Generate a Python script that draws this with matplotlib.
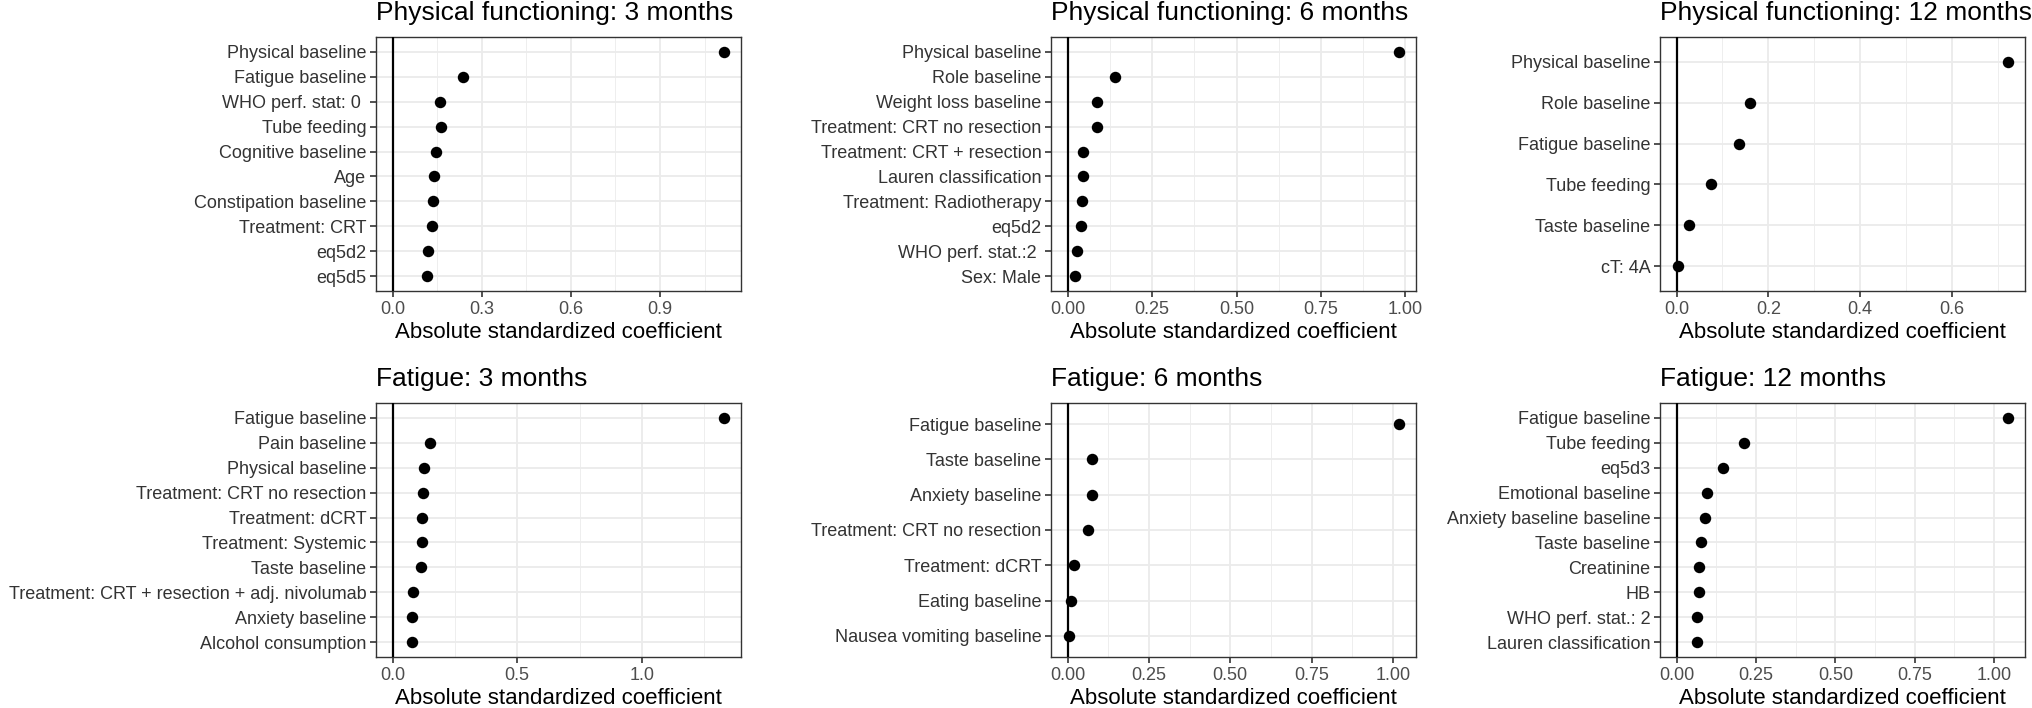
import matplotlib
matplotlib.use("Agg")
import matplotlib.pyplot as plt
from matplotlib.ticker import AutoMinorLocator

plt.rcParams["font.family"] = ["Liberation Sans", "DejaVu Sans"]

# =========================================
# Data
# =========================================

pf3_labels = ["Physical baseline", "Fatigue baseline", "WHO perf. stat: 0 ", "Tube feeding",
              "Cognitive baseline", "Age", "Constipation baseline", "Treatment: CRT",
              "eq5d2", "eq5d5"]
pf3_values = [1.117, 0.236, 0.161, 0.162, 0.146, 0.139, 0.137, 0.134, 0.119, 0.116]

pf6_labels = ["Physical baseline", "Role baseline", "Weight loss baseline",
              "Treatment: CRT no resection", "Treatment: CRT + resection",
              "Lauren classification", "Treatment: Radiotherapy", "eq5d2",
              "WHO perf. stat.:2 ", "Sex: Male"]
pf6_values = [0.982, 0.141, 0.088, 0.086, 0.046, 0.045, 0.043, 0.041, 0.029, 0.022]

pf12_labels = ["Physical baseline", "Role baseline", "Fatigue baseline", "Tube feeding",
               "Taste baseline", "cT: 4A"]
pf12_values = [0.723, 0.161, 0.135, 0.075, 0.028, 0.004]

fa3_labels = ["Fatigue baseline", "Pain baseline", "Physical baseline",
              "Treatment: CRT no resection", "Treatment: dCRT", "Treatment: Systemic",
              "Taste baseline", "Treatment: CRT + resection + adj. nivolumab",
              "Anxiety baseline", "Alcohol consumption"]
fa3_values = [1.331, 0.151, 0.127, 0.120, 0.119, 0.117, 0.112, 0.081, 0.077, 0.076]

fa6_labels = ["Fatigue baseline", "Taste baseline", "Anxiety baseline",
              "Treatment: CRT no resection", "Treatment: dCRT", "Eating baseline",
              "Nausea vomiting baseline"]
fa6_values = [1.020, 0.076, 0.074, 0.063, 0.021, 0.009, 0.005]

fa12_labels = ["Fatigue baseline", "Tube feeding", "eq5d3", "Emotional baseline",
               "Anxiety baseline baseline", "Taste baseline", "Creatinine", "HB",
               "WHO perf. stat.: 2", "Lauren classification"]
fa12_values = [1.045, 0.213, 0.145, 0.097, 0.090, 0.078, 0.071, 0.070, 0.065, 0.064]

titles = ["Physical functioning: 3 months", "Physical functioning: 6 months",
          "Physical functioning: 12 months", "Fatigue: 3 months", "Fatigue: 6 months",
          "Fatigue: 12 months"]

ticks_3dec = [0.0, 0.3, 0.6, 0.9]
ticks_4q = [0.0, 0.25, 0.5, 0.75, 1.0]
ticks_pf12 = [0.0, 0.2, 0.4, 0.6]
ticks_fa3 = [0.0, 0.5, 1.0]

ticklabels_3dec = ["0.0", "0.3", "0.6", "0.9"]
ticklabels_4q = ["0.00", "0.25", "0.50", "0.75", "1.00"]
ticklabels_pf12 = ["0.0", "0.2", "0.4", "0.6"]
ticklabels_fa3 = ["0.0", "0.5", "1.0"]

panels = [
    (pf3_labels, pf3_values, ticks_3dec, ticklabels_3dec),
    (pf6_labels, pf6_values, ticks_4q, ticklabels_4q),
    (pf12_labels, pf12_values, ticks_pf12, ticklabels_pf12),
    (fa3_labels, fa3_values, ticks_fa3, ticklabels_fa3),
    (fa6_labels, fa6_values, ticks_4q, ticklabels_4q),
    (fa12_labels, fa12_values, ticks_4q, ticklabels_4q),
]

# =========================================
# Layout (pixels)
# =========================================

W, H = 2032, 708
col_left = [376, 1051, 1660]
row_top = [37, 403]
box_w, box_h = 365, 254

fig = plt.figure(figsize=(W / 100, H / 100), dpi=100)

grid_col = "#EBEBEB"
dark = "#333333"

for k, (labels, values, ticks, ticklabels) in enumerate(panels):

    r, c = divmod(k, 3)

    ax = fig.add_axes([col_left[c] / W, (H - row_top[r] - box_h) / H, box_w / W, box_h / H])

    n = len(labels)
    ypos = [n - i for i in range(n)]

    ax.scatter(values, ypos, s=68, color="black", zorder=4, linewidths=0)
    ax.axvline(0, color="black", lw=1.6, zorder=3)

    vmax = max(values)
    ax.set_xlim(-0.05 * vmax, 1.05 * vmax)
    ax.set_ylim(0.4, n + 0.6)

    ax.set_xticks(ticks)
    ax.set_xticklabels(ticklabels)
    ax.xaxis.set_minor_locator(AutoMinorLocator(2))

    ax.set_yticks(ypos)
    ax.set_yticklabels(labels)

    ax.grid(True, which="major", color=grid_col, lw=1.3, zorder=0)
    ax.grid(True, which="minor", axis="x", color=grid_col, lw=0.6, zorder=0)
    ax.set_axisbelow(True)

    ax.tick_params(which="major", length=4, width=1.2, color=dark,
                   labelsize=13, labelcolor="#4D4D4D", pad=3)
    ax.tick_params(axis="y", labelcolor="#333333")
    ax.tick_params(which="minor", length=0)

    for s in ax.spines.values():
        s.set_color(dark)
        s.set_linewidth(1.0)

    ax.set_xlabel("Absolute standardized coefficient", fontsize=16, labelpad=3)
    ax.set_title(titles[k], loc="left", fontsize=19, pad=12)

fig.savefig("out.png", dpi=100)
